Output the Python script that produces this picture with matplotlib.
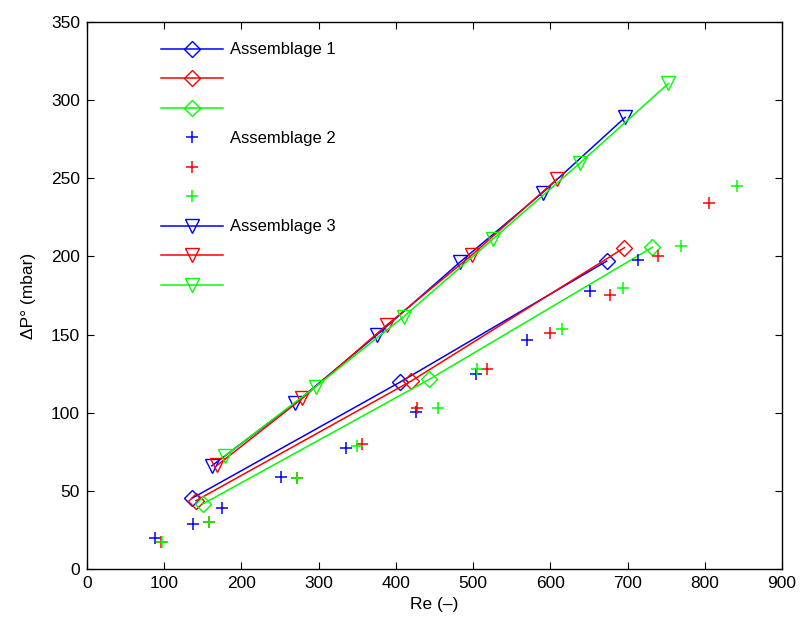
import matplotlib
matplotlib.use("Agg")
import matplotlib.pyplot as plt

plt.rcParams['font.family'] = ['Liberation Sans', 'DejaVu Sans']

# Assemblage 1 (diamonds, lines)
a1_blue_x = [135.8, 404.8, 673]
a1_blue_y = [45.2, 119.4, 197]
a1_red_x = [141, 420, 696]
a1_red_y = [43.7, 120.3, 205.6]
a1_green_x = [150, 443.5, 732]
a1_green_y = [41.6, 121.4, 205.8]

# Assemblage 2 (plus markers)
a2_blue_x = [88.4, 137.5, 175, 251, 335.8, 426, 504, 570, 652, 713]
a2_blue_y = [19.6, 28.6, 38.8, 58.7, 77.6, 100.6, 124.8, 146.5, 177.7, 197.7]
a2_red_x = [96, 158, 271.6, 356.5, 427.6, 518.6, 599, 677, 740, 805]
a2_red_y = [17.5, 30.3, 58, 79.8, 102.8, 127.8, 150.8, 175.6, 200.5, 234]
a2_green_x = [97, 158, 271.6, 350, 454, 505.6, 615, 694, 769, 842]
a2_green_y = [17.5, 30, 58.5, 78.7, 102.8, 127.8, 153.8, 180, 206.7, 245]

# Assemblage 3 (down triangles, lines)
a3_blue_x = [161.6, 270, 376, 483.6, 590, 697]
a3_blue_y = [66, 106.4, 150, 196.6, 240.8, 289]
a3_red_x = [169, 279, 388, 498.7, 608.6]
a3_red_y = [66.5, 109.2, 156, 201, 249.5]
a3_green_x = [178.5, 296, 410, 525.4, 639, 753]
a3_green_y = [72.3, 116.6, 161.4, 211, 260, 310.7]

legend_labels = ['Assemblage 1', '', '', 'Assemblage 2', '', '', 'Assemblage 3', '', '']

fig = plt.figure(figsize=(8.01, 6.25), dpi=100)
ax = fig.add_axes([0.1086, 0.0896, 0.8676, 0.8752])

B, R, G = (0, 0, 1), (1, 0, 0), (0, 1, 0)
lw = 1.1
dms = 8
tms = 10
pms = 9

h = []
h += ax.plot(a1_blue_x, a1_blue_y, linestyle='-', color=B, marker='D', ms=dms, mfc='none', lw=lw)
h += ax.plot(a1_red_x, a1_red_y, linestyle='-', color=R, marker='D', ms=dms, mfc='none', lw=lw)
h += ax.plot(a1_green_x, a1_green_y, linestyle='-', color=G, marker='D', ms=dms, mfc='none', lw=lw)
h += ax.plot(a2_blue_x, a2_blue_y, linestyle='none', color=B, marker='+', ms=pms, mew=1.1)
h += ax.plot(a2_red_x, a2_red_y, linestyle='none', color=R, marker='+', ms=pms, mew=1.1)
h += ax.plot(a2_green_x, a2_green_y, linestyle='none', color=G, marker='+', ms=pms, mew=1.1)
h += ax.plot(a3_blue_x, a3_blue_y, linestyle='-', color=B, marker='v', ms=tms, mfc='none', lw=lw)
h += ax.plot(a3_red_x, a3_red_y, linestyle='-', color=R, marker='v', ms=tms, mfc='none', lw=lw)
h += ax.plot(a3_green_x, a3_green_y, linestyle='-', color=G, marker='v', ms=tms, mfc='none', lw=lw)

ax.set_xlim(0, 900)
ax.set_ylim(0, 350)
ax.set_xticks(range(0, 901, 100))
ax.set_yticks(range(0, 351, 50))
ax.tick_params(direction='in', top=True, right=True, labelsize=12.5, length=5, pad=5)
for s in ax.spines.values():
    s.set_linewidth(1.0)
ax.set_xlabel('Re (\u2013)', fontsize=12.5, labelpad=4)
ax.set_ylabel('\u0394P\u00b0 (mbar)', fontsize=12.5, labelpad=11)

leg = ax.legend(h, legend_labels, loc='upper left', bbox_to_anchor=(0.085, 0.99),
                frameon=False, fontsize=12, handlelength=3.7, labelspacing=0.87,
                handletextpad=0.45)

fig.savefig('out.png', dpi=100)
